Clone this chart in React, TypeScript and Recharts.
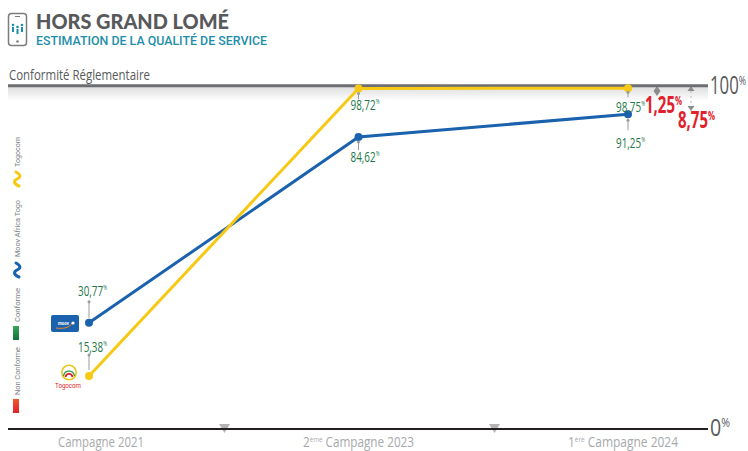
import React from "react";
import {
  LabelList,
  Line,
  LineChart,
  ReferenceLine,
  XAxis,
  YAxis,
} from "recharts";

const categories = ["Campagne 2021", "Campagne 2023", "Campagne 2024"];
const categoryPrefixes = ["", "2", "1"];
const categorySuffixes = ["", "ème", "ère"];
const togocomValues = [15.38, 98.72, 98.75];
const moovValues = [30.77, 84.62, 91.25];
const gapValues = [1.25, 8.75];
const yTicks = [0, 100];

const data = categories.map((name, i) => ({
  name,
  togocom: togocomValues[i],
  moov: moovValues[i],
}));

const YELLOW = "#f7c914";
const BLUE = "#1a62ad";
const GREEN = "#24774a";
const RED = "#e2202c";
const GREY = "#9a9a9a";
const CONDENSED = "'Open Sans', Lato, sans-serif";

const fmt = (v: number) => v.toFixed(2).replace(".", ",");

// vertical placement of the value text and its pointer, per campaign
const togocomLabelDy = [-29, 17, 19];
const moovLabelDy = [-32, 20, 29];
const togocomPointer = [[-6, -21], [5, 11], [4, 9]];
const moovPointer = [[-5, -21], [5, 13], [6, 16]];
const labelDx = [3, 6, 2];

function ValueLabel(props: any) {
  const { x, y, value, index, dys, pointers } = props;
  const [p0, p1] = pointers[index];
  return (
    <g>
      <line x1={x} x2={x} y1={y + p0} y2={y + p1} stroke={GREY} strokeWidth={1} />
      <circle cx={x} cy={y + Math.min(p0, p1)} r={1.5} fill={GREY} />
      <text
        x={x + labelDx[index] - 14}
        y={y + dys[index] + 5}
        fill={GREEN}
        fontFamily={CONDENSED}
        fontSize={15}
        textLength={29}
        lengthAdjust="spacingAndGlyphs"
      >
        {fmt(value)}
        <tspan fontSize={7} dy={-6}>%</tspan>
      </text>
    </g>
  );
}

function CampaignTick(props: any) {
  const { x, y, index } = props;
  const shifts = [12, 0, -5];
  const widths = [86, 111, 110];
  const prefix = categoryPrefixes[index];
  const cx = x + shifts[index];
  return (
    <text
      x={cx - widths[index] / 2}
      y={y + 10}
      fill="#a7a9ac"
      fontFamily={CONDENSED}
      fontSize={15}
      textLength={widths[index]}
      lengthAdjust="spacingAndGlyphs"
    >
      {prefix}
      {prefix && <tspan fontSize={8} dy={-5}>{categorySuffixes[index]}</tspan>}
      <tspan dy={prefix ? 5 : 0}> {categories[index]}</tspan>
    </text>
  );
}

function PercentTick(props: any) {
  const { x, y, payload } = props;
  const top = payload.value === 100;
  return (
    <text
      x={x - 6}
      y={top ? y + 10 : y + 7}
      fill="#58595b"
      fontFamily={CONDENSED}
      fontSize={top ? 25 : 24}
      textLength={top ? 36 : 20}
      lengthAdjust="spacingAndGlyphs"
    >
      {payload.value}
      <tspan fontSize={13} dy={-9}>%</tspan>
    </text>
  );
}

function DoubleArrow({ x, y1, y2 }: { x: number; y1: number; y2: number }) {
  return (
    <g fill="#8c8c8c" stroke="none">
      <path d={`M${x} ${y1}L${x + 3.5} ${y1 + 5}L${x - 3.5} ${y1 + 5}Z`} />
      <path d={`M${x} ${y2}L${x + 3.5} ${y2 - 5}L${x - 3.5} ${y2 - 5}Z`} />
      <line x1={x} x2={x} y1={y1 + 5} y2={y2 - 5} stroke="#b5b5b5" strokeDasharray="2 3" />
    </g>
  );
}

function GapLabel({ x, y, value }: { x: number; y: number; value: number }) {
  return (
    <text
      x={x}
      y={y}
      fill={RED}
      fontFamily={CONDENSED}
      fontWeight={700}
      fontSize={23}
      textLength={37}
      lengthAdjust="spacingAndGlyphs"
    >
      {fmt(value)}
      <tspan fontSize={12} dy={-8}>%</tspan>
    </text>
  );
}

function SideText({ x, y, len, children }: { x: number; y: number; len: number; children: string }) {
  return (
    <text
      transform={`translate(${x} ${y}) rotate(-90)`}
      fill="#808285"
      fontFamily="Roboto, sans-serif"
      fontSize={7}
      textLength={len}
      lengthAdjust="spacingAndGlyphs"
    >
      {children}
    </text>
  );
}

function Wave({ y, color }: { y: number; color: string }) {
  return (
    <path
      d={`M16 ${y}C21 ${y + 3} 21 ${y + 5} 17 ${y + 7}C13 ${y + 9} 14 ${y + 12} 19 ${y + 14}`}
      fill="none"
      stroke={color}
      strokeWidth={3}
      strokeLinecap="round"
    />
  );
}

function Header() {
  return (
    <g>
      <rect x={8.5} y={13.5} width={18} height={32} rx={3} fill="#fff" stroke="#7d7d7d" strokeWidth={1.5} />
      <circle cx={17.5} cy={41.5} r={1.3} fill="#7d7d7d" />
      <line x1={15} x2={20} y1={16.5} y2={16.5} stroke="#7d7d7d" />
      <path d="M13 27v5M17.5 29v5M22 27v5" stroke="#1f8ea8" strokeWidth={2} />
      <circle cx={13} cy={25} r={1.3} fill="#1f8ea8" />
      <circle cx={17.5} cy={27} r={1.3} fill="#1f8ea8" />
      <circle cx={22} cy={25} r={1.3} fill="#1f8ea8" />
      <text x={36} y={29} fill="#58595b" fontFamily="Lato, sans-serif" fontWeight={900} fontSize={21} textLength={193} lengthAdjust="spacingAndGlyphs">
        HORS GRAND LOMÉ
      </text>
      <text x={36} y={45} fill="#1f8ea8" fontFamily="Roboto, sans-serif" fontWeight={500} fontSize={12.5} textLength={231} lengthAdjust="spacingAndGlyphs">
        ESTIMATION DE LA QUALITÉ DE SERVICE
      </text>
      <text x={9} y={80} fill="#58595b" fontFamily={CONDENSED} fontSize={15} textLength={141} lengthAdjust="spacingAndGlyphs">
        Conformité Réglementaire
      </text>
    </g>
  );
}

function SideLegend() {
  return (
    <g>
      <defs>
        <linearGradient id="legendGreen" x1="0" y1="0" x2="0" y2="1">
          <stop offset="0" stopColor="#3aa655" />
          <stop offset="1" stopColor="#11733c" />
        </linearGradient>
        <linearGradient id="legendRed" x1="0" y1="0" x2="0" y2="1">
          <stop offset="0" stopColor="#f0592b" />
          <stop offset="1" stopColor="#e2202c" />
        </linearGradient>
      </defs>
      <SideText x={20} y={167} len={30}>Togocom</SideText>
      <Wave y={172} color={YELLOW} />
      <SideText x={20} y={257} len={57}>Moov Africa Togo</SideText>
      <Wave y={263} color={BLUE} />
      <SideText x={20} y={322} len={34}>Conforme</SideText>
      <rect x={13} y={326} width={6} height={14} fill="url(#legendGreen)" />
      <SideText x={20} y={395} len={48}>Non Conforme</SideText>
      <rect x={13} y={399} width={6} height={14} fill="url(#legendRed)" />
    </g>
  );
}

function Logos() {
  return (
    <g>
      <rect x={51} y={315} width={28} height={17} rx={2} fill={BLUE} />
      <text x={58} y={325} fill="#fff" fontFamily="Roboto, sans-serif" fontWeight={700} fontSize={6} textLength={11} lengthAdjust="spacingAndGlyphs">
        moov
      </text>
      <path d="M56 328C63 329 70 328 73 322" fill="none" stroke="#f08a24" strokeWidth={1} />
      <circle cx={73} cy={323} r={1.6} fill="#fff" />
      <circle cx={69} cy={372.5} r={7.2} fill="#fff" stroke="#e8c81c" strokeWidth={1.6} />
      <path d="M63.5 376A5.6 6 0 0 1 74.5 376" fill="none" stroke="#3a9a4a" strokeWidth={1.4} />
      <path d="M65.5 377A3.6 4 0 0 1 72.5 377" fill="none" stroke="#e2202c" strokeWidth={1.8} />
      <text x={55} y={388} fill={RED} fontFamily="Roboto, sans-serif" fontWeight={400} fontSize={6.5} textLength={26} lengthAdjust="spacingAndGlyphs">
        Togocom
      </text>
    </g>
  );
}

export default function App() {
  return (
    <div style={{ position: "absolute", left: 0, top: 0, width: 748, height: 451, background: "#fff" }}>
      <LineChart
        width={748}
        height={451}
        data={data}
        margin={{ top: 84, right: 0, bottom: 0, left: 8 }}
      >
        <defs>
          <linearGradient id="topShade" x1="0" y1="0" x2="0" y2="1">
            <stop offset="0" stopColor="#dcdcdc" />
            <stop offset="1" stopColor="#ffffff" />
          </linearGradient>
        </defs>
        <rect x={8} y={86} width={700} height={15} fill="url(#topShade)" />
        <XAxis
          dataKey="name"
          height={22}
          padding={{ left: 81, right: 80 }}
          axisLine={{ stroke: "#231f20", strokeWidth: 2 }}
          tickLine={false}
          interval={0}
          tick={<CampaignTick />}
        />
        <YAxis
          orientation="right"
          width={40}
          domain={[0, 100]}
          ticks={yTicks}
          axisLine={false}
          tickLine={false}
          tick={<PercentTick />}
        />
        <ReferenceLine y={99.5} stroke="#6d6e71" strokeWidth={3} />
        <Line
          dataKey="moov"
          stroke={BLUE}
          strokeWidth={3}
          dot={{ r: 4, fill: BLUE, stroke: BLUE, strokeWidth: 0 }}
          isAnimationActive={false}
        >
          <LabelList
            dataKey="moov"
            content={(p: any) => <ValueLabel {...p} dys={moovLabelDy} pointers={moovPointer} />}
          />
        </Line>
        <Line
          dataKey="togocom"
          stroke={YELLOW}
          strokeWidth={3}
          dot={{ r: 4, fill: YELLOW, stroke: YELLOW, strokeWidth: 0 }}
          isAnimationActive={false}
        >
          <LabelList
            dataKey="togocom"
            content={(p: any) => <ValueLabel {...p} dys={togocomLabelDy} pointers={togocomPointer} />}
          />
        </Line>
        <path d="M219 424h11l-5.5 9Z" fill="#b5b5b5" />
        <path d="M489 424h11l-5.5 9Z" fill="#b5b5b5" />
        <DoubleArrow x={657} y1={86} y2={96} />
        <DoubleArrow x={691} y1={86} y2={111} />
        <GapLabel x={645} y={113} value={gapValues[0]} />
        <GapLabel x={678} y={128} value={gapValues[1]} />
        <Header />
        <SideLegend />
        <Logos />
      </LineChart>
    </div>
  );
}
